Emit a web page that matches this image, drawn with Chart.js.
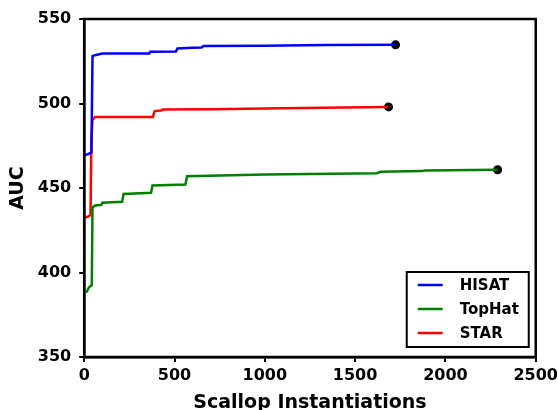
<!DOCTYPE html>
<html>
<head>
<meta charset="utf-8">
<script src="https://cdn.jsdelivr.net/npm/chart.js@4/dist/chart.umd.min.js"></script>
<style>
html,body{margin:0;padding:0;background:#fff;overflow:hidden;}
#wrap{position:relative;width:562px;height:418px;}
</style>
</head>
<body>
<div id="wrap"><canvas id="c"></canvas></div>
<script>
// ---- Data ----
const seriesNames = ["HISAT", "TopHat", "STAR"];
const seriesColors = ["#0000ff", "#008000", "#ff0000"];

const hisatX = [0, 20, 40, 46, 60, 100, 360, 366, 508, 516, 600, 650, 660, 1000, 1340, 1724];
const hisatY = [469.5, 470, 471, 528, 528.6, 529.6, 529.6, 530.6, 530.8, 532.6, 533, 533.1, 534, 534.2, 534.6, 534.7];

const tophatX = [0, 15, 25, 35, 42, 46, 60, 95, 100, 210, 218, 370, 378, 560, 570, 1000, 1620, 1640, 1870, 1885, 2289];
const tophatY = [388.2, 388.8, 391, 392, 392.5, 438.5, 439.6, 440, 441.3, 441.8, 446.5, 447.2, 451.5, 452, 457, 458, 458.8, 459.6, 460, 460.4, 460.8];

const starX = [0, 20, 35, 40, 46, 60, 380, 390, 425, 435, 700, 1000, 1200, 1685];
const starY = [432.7, 433, 434, 480, 490.5, 492, 492, 495.5, 495.8, 496.4, 496.6, 497, 497.4, 498];

const xTicks = [0, 500, 1000, 1500, 2000, 2500];
const yTicks = [350, 400, 450, 500, 550];
const xTitle = "Scallop Instantiations";
const yTitle = "AUC";

// ---- Build datasets ----
const allX = [hisatX, tophatX, starX];
const allY = [hisatY, tophatY, starY];
function pts(xs, ys){ return xs.map((x,i)=>({x:x, y:ys[i]})); }

const datasets = seriesNames.map((name,i)=>({
  type:'line', label:name, data:pts(allX[i], allY[i]),
  borderColor:seriesColors[i], backgroundColor:seriesColors[i],
  borderWidth:2.5, pointRadius:0, tension:0, fill:false
}));
const ends = allX.map((xs,i)=>({x:xs[xs.length-1], y:allY[i][allY[i].length-1]}));
datasets.push({
  type:'scatter', label:'_end', data:ends,
  pointRadius:4.5, pointBackgroundColor:'#000', pointBorderColor:'#000', borderWidth:0
});

const FONT = "'DejaVu Sans', sans-serif";

const framePlugin = {
  id:'frame',
  afterDraw(chart){
    const {ctx, chartArea:a} = chart;
    ctx.save();
    ctx.strokeStyle='#000'; ctx.lineWidth=2.5;
    ctx.strokeRect(a.left, a.top, a.right-a.left, a.bottom-a.top);
    // legend
    const bx = a.right-129, by = a.bottom-85, bw = 122, bh = 75;
    ctx.fillStyle='#fff'; ctx.fillRect(bx,by,bw,bh);
    ctx.lineWidth=2; ctx.strokeRect(bx,by,bw,bh);
    ctx.font = "bold 15px " + FONT;
    ctx.textBaseline='middle'; ctx.textAlign='left';
    seriesNames.forEach((n,i)=>{
      const y = by + 13 + i*24;
      ctx.strokeStyle=seriesColors[i]; ctx.lineWidth=2.5;
      ctx.beginPath(); ctx.moveTo(bx+11,y); ctx.lineTo(bx+36,y); ctx.stroke();
      ctx.fillStyle='#000'; ctx.fillText(n, bx+53, y+1);
    });
    ctx.restore();
  }
};

new Chart(document.getElementById('c'), {
  data:{datasets},
  options:{
    responsive:true, maintainAspectRatio:false, animation:false,
    layout:{padding:{left:5, right:0, top:19, bottom:4}},
    plugins:{legend:{display:false}, tooltip:{enabled:false}},
    scales:{
      x:{type:'linear', min:0, max:2500,
        afterBuildTicks(s){ s.ticks = xTicks.map(v=>({value:v})); },
        ticks:{color:'#000', font:{family:FONT, size:16, weight:'bold'}, padding:4, maxRotation:0,
          callback:(v)=>String(v)},
        grid:{drawOnChartArea:false, drawTicks:true, tickLength:5, color:'#000', lineWidth:2},
        border:{display:true, color:'#000', width:2.5},
        title:{display:true, text:xTitle, color:'#000', font:{family:FONT, size:19, weight:'bold'}, padding:{top:2,bottom:0}}
      },
      y:{type:'linear', min:350, max:550,
        afterBuildTicks(s){ s.ticks = yTicks.map(v=>({value:v})); },
        ticks:{color:'#000', font:{family:FONT, size:16, weight:'bold'}, padding:8,
          callback:(v)=>String(v)},
        grid:{drawOnChartArea:false, drawTicks:true, tickLength:5, color:'#000', lineWidth:2},
        border:{display:true, color:'#000', width:2.5},
        title:{display:true, text:yTitle, color:'#000', font:{family:FONT, size:19, weight:'bold'}, padding:{top:2,bottom:0}}
      }
    }
  },
  plugins:[framePlugin]
});
</script>
</body>
</html>
